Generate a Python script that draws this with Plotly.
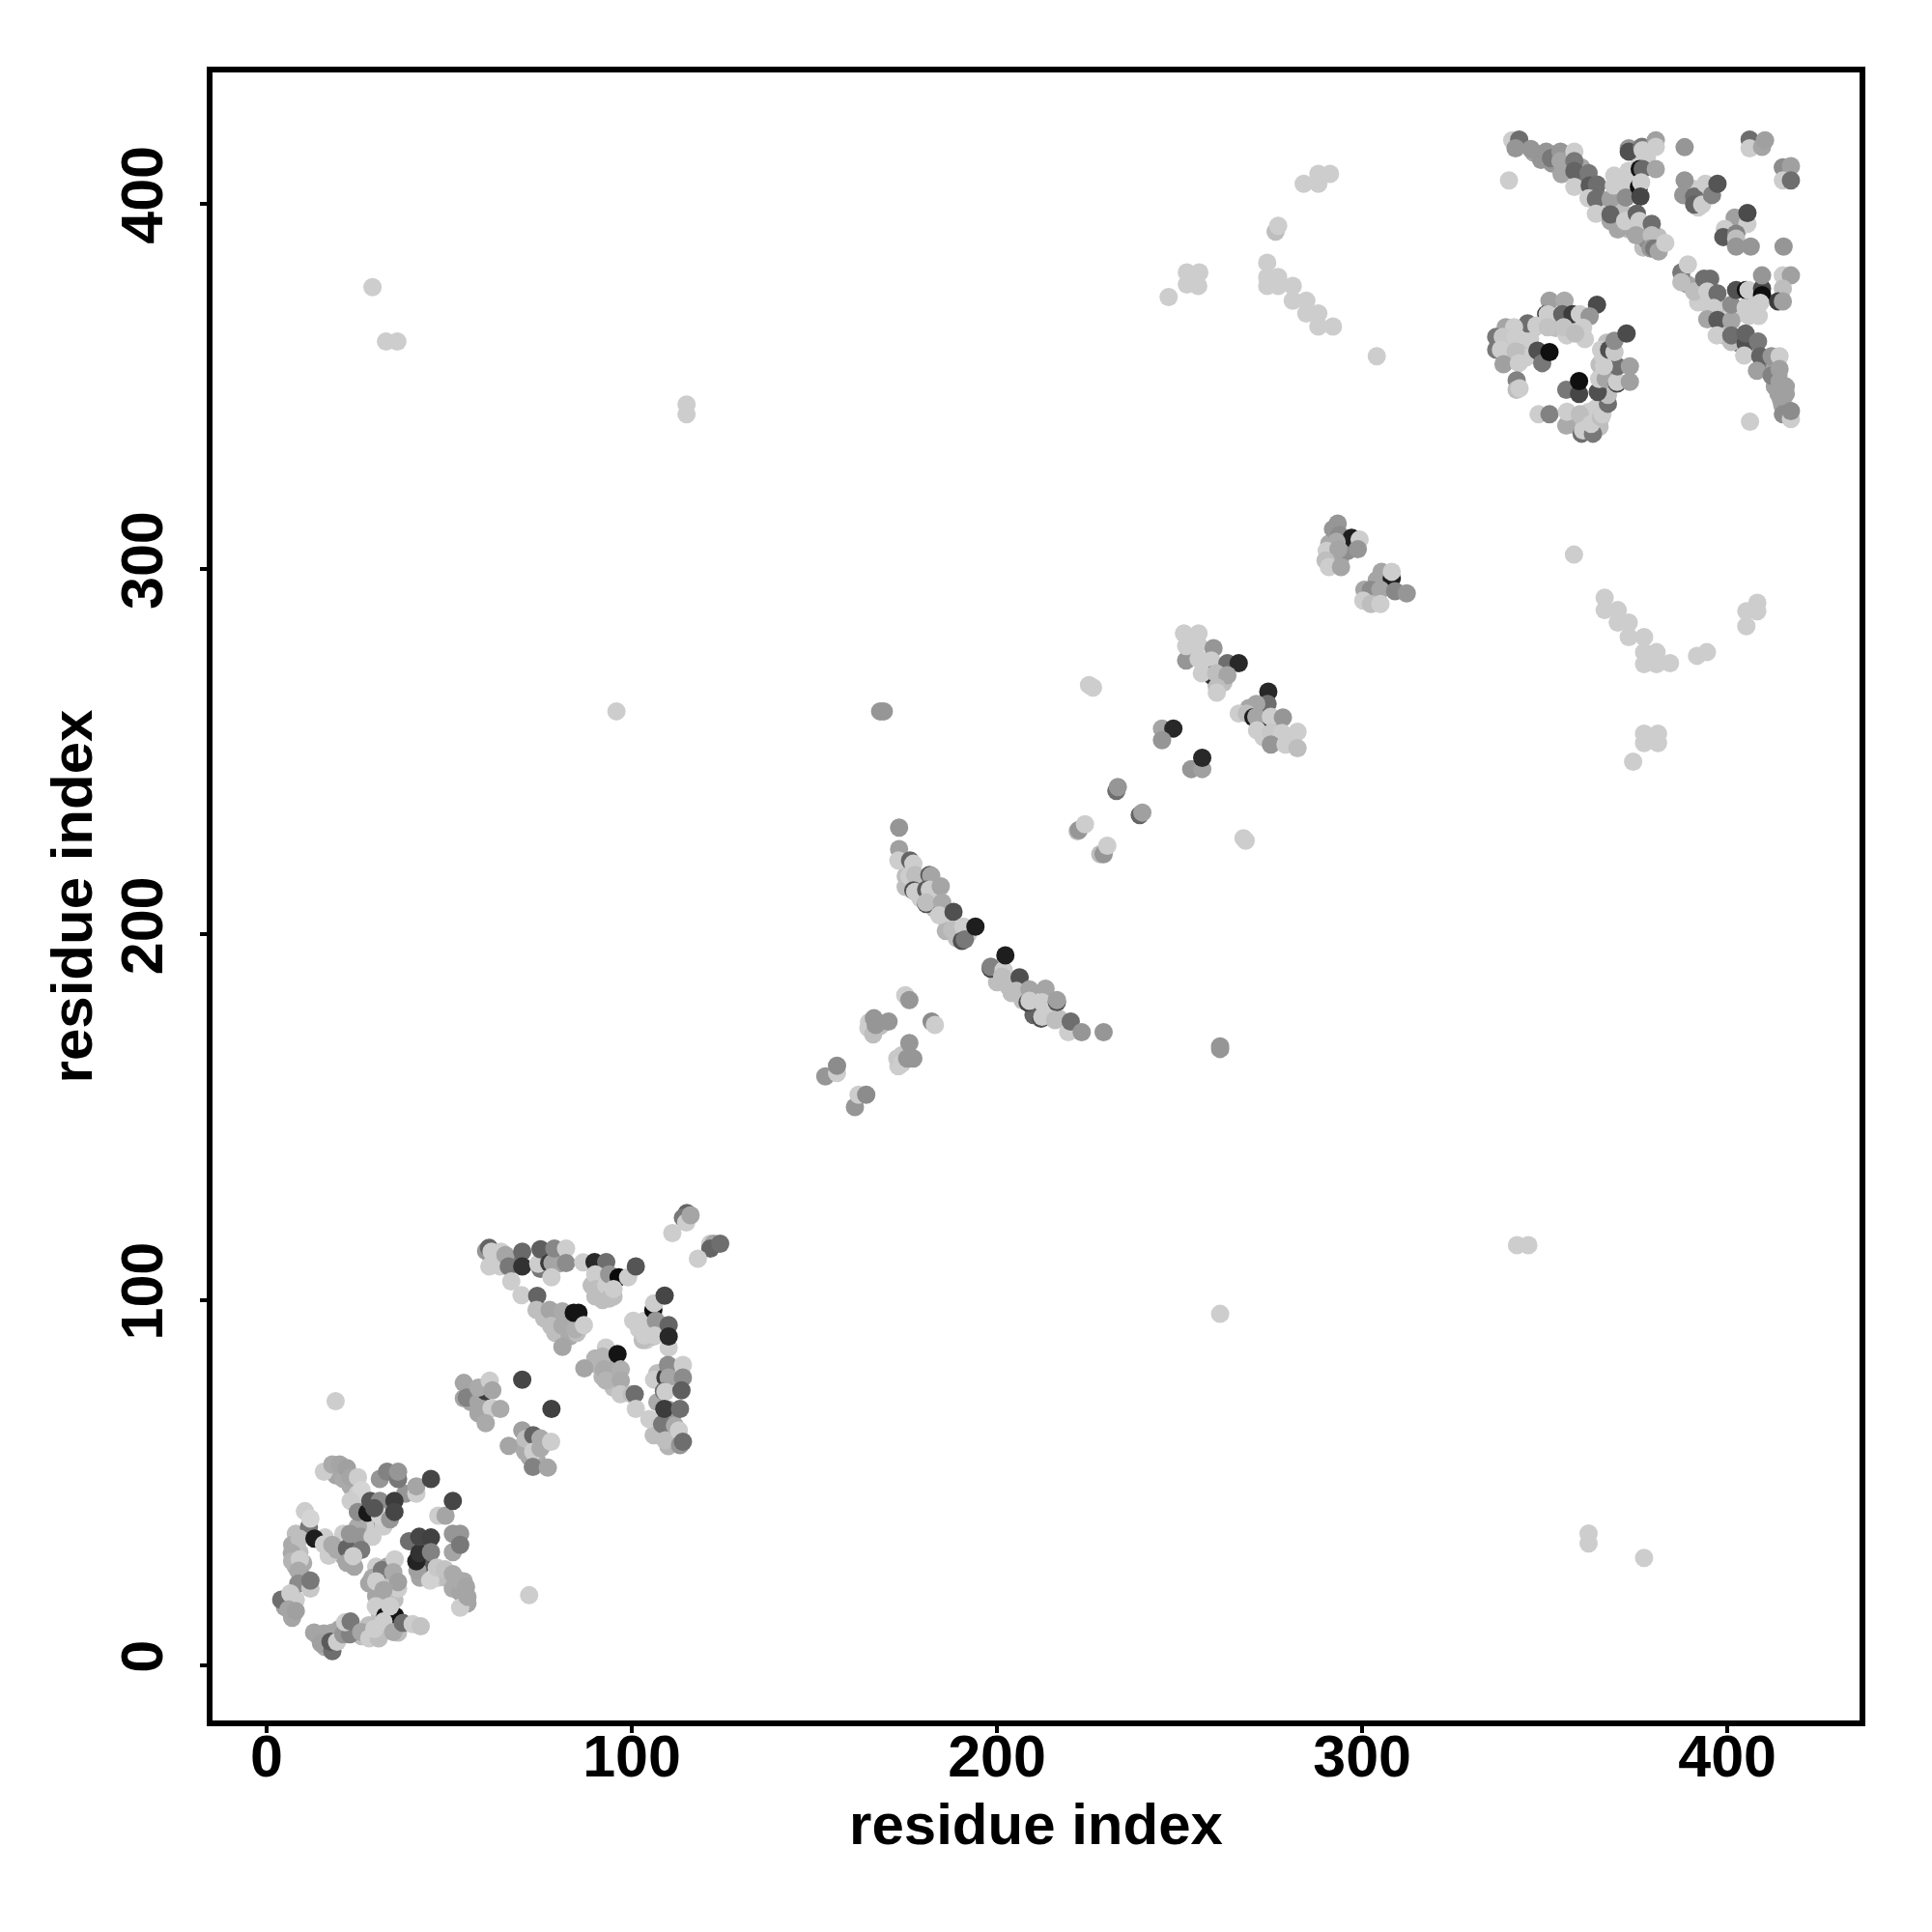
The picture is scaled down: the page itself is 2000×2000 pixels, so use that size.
import plotly.graph_objects as go

# contacts hidden underneath the visible ones: (residue i, residue j, grey level)
under_a = [(19,52,165),(21,51,170),(23,49,170),(25,47,205),(27,44,205),(8,36,190),(7,33,170),(9,31,190),(10,28,170),(8,27,170),(10,24,150),(6,17,165),(8,18,205),(5,16,160),(7,13,165),
(20,33,170),(21,30,170),(24,33,150),(24,27,165),(16,35,205),(17,30,205),(30,27,205),(29,24,170),(33,27,165),(33,23,190),(30,19,165),(33,19,190),(35,18,190),(31,14,190),(28,11,190),(31,10,190),(33,11,205),(36,9,190),(28,8,190),(26,8,190),(16,5,170),(13,9,165),(18,9,170),(20,10,165),
(43,33,100),(43,28,90),(42,24,165),(47,24,205),(49,24,190),(51,21,170),(53,20,165),(55,17,165),(54,23,170),(33,42,170),(30,38,165),(28,39,140),(32,38,205),(27,38,205),(38,47,150),(25,38,170)]
under_b = [(62,111,205),(63,111,190),(64,112,180),(68,111,120),(76,111,205),(80,110,165),(89,104,190),(90,101,190),(92,100,190),(95,101,190),(91,105,205),(76,95,190),(79,95,170),(79,91,190),(83,94,170),(83,90,170),(85,91,190),(90,84,180),(91,82,180),(92,79,180),(94,82,170),(95,78,170),(95,76,190),(94,79,170),
(102,92,205),(104,89,205),(106,90,190),(104,92,205),(108,92,190),(103,89,190),(107,80,190),(107,72,170),(108,64,180),(106,63,190),(110,60,180),(110,64,170),(112,62,180),(111,67,150),(110,70,150),(56,72,165),(57,74,165),(58,69,165),(70,60,190),(72,60,170),(72,57,170),(74,56,170)]
under_c = [(175,216,190),(175,213,190),(178,214,205),(179,210,205),(182,210,190),(183,207,190),(186,204,205),(186,201,180),(189,199,190),(192,200,205),(200,187,190),(203,186,190),(204,184,190),(207,182,190),(210,180,190),(214,179,205),(217,177,190),(210,178,100),(168,175,190),(165,176,205),(174,167,200),(173,164,205)]
under_d = [(292,302,165),(291,307,170),(294,303,165),(296,305,140),(292,311,150),(304,297,165),(303,292,190),(306,296,165),(254,277,205),(253,280,205),(257,273,205),(260,269,190),(262,269,190),(262,272,165),(269,262,165),(272,257,205),(273,254,205),(276,253,205),(277,257,190),(281,253,205),(272,262,120)]
under_e = [(340,364,205),(340,360,205),(344,362,190),(345,358,205),(340,358,190),(347,366,190),(346,363,205),(352,368,205),(353,366,190),(357,368,190),(359,367,205),(356,364,205),(361,363,205),(363,339,190),(361,341,205),(359,339,190),(362,343,205),(366,345,190),(364,344,205),(365,339,190),(367,350,165),(365,356,190),(366,358,205),(367,362,190),
(347,414,165),(349,412,150),(352,411,150),(356,411,150),(360,406,120),(360,410,165),(364,403,130),(366,399,205),(371,398,190),(373,393,190),(370,393,165),(378,392,165),(377,388,190),(381,391,190),(378,390,140),(374,393,165),(370,405,205),(371,402,190),(374,407,205),(374,404,190),(376,412,205),(378,413,205),
(391,404,205),(392,399,205),(403,393,205),(402,392,190),(389,378,165),(392,376,190),(392,373,205),(395,372,205),(399,371,205),(397,372,190),(400,366,190),(403,370,205),(406,373,205),(399,364,190),(403,362,120),(405,359,205),(407,360,160),(410,356,160),(411,355,120),(413,350,160),(414,348,160),(416,348,160),(415,345,165),(414,353,165),(416,350,160),(413,355,160),(416,344,160)]

cluster_a = [(15.7,53,205),(18,55,170),(20,55,165),(22,54,160),(23,51.5,165),(25,51.5,205),(26,48,212),(23,45,205),(25,42,140),
(31,51,150),(33,53,130),(36,51,120),(36,53,150),(41,47,205),(41,49,165),(45,51,70),(47,41,205),(49,41,165),(51,45,70),
(27.6,41.8,25),(28.4,45,85),(31,45,140),(31,41,210),(29.5,43,85),(33.8,40,150),(35,45,60),(35,42,70),
(39,34,110),(41.3,26,160),(41,28.5,35),(41.8,30.7,50),(41.8,35.2,70),(45,35,65),(45,31,130),
(51,31,165),(51,36,150),(53,36,150),(53,33,120),
(44.8,23.2,210),(46.6,26.8,200),(48.8,26.3,195),(51,25,170),(52.8,23.2,170),(54.6,21.5,165),(53,15.8,205),(55,18.8,165),
(10.5,42.2,205),(11.6,37.8,120),(12,40.2,212),(9,34.7,190),(13.1,34.7,30),(15.7,33.1,205),(6.9,30.7,170),(7,28.5,180),(9.1,29,205),(8.7,25.9,170),
(8.7,22.4,140),(12,21,200),(12,23.2,120),(4,18,110),(6.5,19.7,205),(6,15.3,165),(8,14.9,160),
(21,36,205),(18,33,170),(19.3,31.6,170),(22,32,100),(22.8,36,150),(25.7,35.2,150),(29,35.2,205),(22,28.1,165),(25.9,31.6,120),(23.7,29.9,205),
(31.6,26.1,120),(35.1,29,205),(34.7,25.5,170),(28.1,22.4,165),(30,23,205),(36,21,205),(36,22.8,160),(32,20.6,165),(29.9,16.2,205),(32.5,13.5,20),(35.2,13.5,20),(33.8,16.2,205),
(14,8.2,165),(15.7,8.7,165),(14.9,6,160),(18,3.9,110),(17.5,6.5,90),(19.3,6.5,205),(21,8.5,150),(22.8,8.5,130),(21.5,11.8,205),(23,12,120),(25.9,9.1,165),
(28.1,7.4,205),(30.7,7.4,190),(29.5,10,205),(32,12,205),(34.7,9.1,170),(37.3,11.6,110),(40,11.3,205),(42.2,10.7,195),
(18.9,72.3,205),(71.9,19.2,205)]

cluster_b = [(60.1,113.4,150),(60.9,114.3,100),(61,109.2,205),(61.6,113.2,205),(64,109.2,205),(64.2,113.2,205),(65.4,112.3,165),(66.3,109.2,120),(70,113.2,105),(70,109.2,50),(67,105.1,205),
(75,108.5,120),(74.4,109.9,205),(75,113.9,95),(77.4,110.1,60),(78.3,110.1,165),(78.8,114.1,135),(78,106.2,205),(82,114.1,205),(82,110.1,140),
(86.7,110.3,205),(89.8,110.4,40),(93,110.4,110),(90,107,205),(90.2,103,190),(93,104,205),(93.8,107,150),(93.8,100.4,190),(96.4,106.2,10),(95,103,205),(99,106.2,205),(101.1,109.2,85),
(69.8,101.3,205),(74.1,101.1,100),(73.9,97.3,190),(77.5,97.3,165),(77.9,92.9,190),(81,96.9,170),(81,93,170),(84.5,92,175),(84.1,96.5,20),(85.4,96.5,20),(86.9,93.1,205),(81,87.2,165),
(87,81.3,165),(92.9,87,205),(92,84.5,180),(92.4,81,170),(92.9,78,180),(96.1,85.2,20),(97,81,175),(97,78,170),(96.9,74.2,200),(100,74.2,190),(100.8,74.2,110),(101.1,70.2,205),
(100.4,94.3,205),(103.5,94.3,205),(105.9,97.3,15),(106.1,99.1,205),(109,101.2,70),(103.5,90.3,205),(106.6,94.3,150),(106.3,90.3,205),(110.1,87,205),(110.1,93.1,100),(110.1,90,40),
(106.1,78.2,205),(109.2,78.8,60),(109.9,82.2,140),(110.1,78.8,165),(114,82.2,205),(114,78.8,140),(108.8,75,110),(109.2,74.9,205),(113.6,75.3,95),(104.8,67.4,205),(108.3,66,120),(109.2,61.6,190),(111.8,65.6,170),(112.9,64.3,205),(113.2,60.3,150),(114,61.2,110),(108.9,70.2,60),(113.2,70.2,110),
(115.1,123.8,100),(114,122.5,120),(114.9,121.2,205),(116.1,123.2,165),(111.1,118.3,205),
(121.5,115.4,205),(122.4,115.4,165),(121.5,114.1,100),(124.2,115.4,110),(118.1,111.3,205),
(54,77.3,165),(54,73.1,165),(54.8,73.3,130),(58,72,165),(60,75,60),(58,76,170),(61.1,77.9,205),(61.8,75.3,165),(61.6,70.4,205),(64,70.2,170),(60,66.3,170),(70,78.2,70),(78,70.2,65),
(70,64.3,160),(66.3,60.1,165),(70.8,58.5,170),(71,62,190),(73,63,100),(73,58.5,205),(75,62.1,170),(75,59.4,170),(77.9,61.2,205),(72.9,54.3,130),(77,54.1,165)]

cluster_c = [(173.2,229.3,150),(173.2,223.4,160),(173,220.3,205),(176.2,220.3,100),(177.1,219.4,205),(176,216,205),(177.6,216.3,190),(177.1,212.1,80),(177.6,211.7,205),
(181.5,216.3,90),(182,216.1,165),(180.6,212.3,90),(181.6,212.3,205),(184.6,213.2,165),(180.6,208.4,80),(180.6,208.8,190),(185,208.8,170),(184.2,205.3,205),(188.1,206.2,80),(187.7,201.3,190),(190.8,202.2,205),(190.4,198.3,80),(191.2,198.7,120),(194.1,202.2,30),
(198.3,190.7,70),(198.3,191.2,130),(201.8,190.3,205),(202.3,194.3,30),(201.4,188.5,190),(206.2,188.3,80),(205.3,184.6,190),(208.9,185,165),(208.4,181.4,70),(208.9,181.9,205),(213.3,185.2,165),(212.4,181.5,205),(216.4,181.5,80),(216.4,182.1,160),(212.1,177,80),(212.4,177.5,205),(215.9,176.6,190),(219.5,173.3,205),(220.2,176.2,110),(223.2,173.3,150),(229.2,173.3,150),
(174.9,183.4,205),(176,182.1,150),(164.8,174.4,205),(166.1,172.7,190),(166.3,177.1,150),(166.8,175.3,150),(170.3,176.2,150),(182.1,176.2,140),(183,175.3,205),
(176,170.3,150),(172.7,166.1,200),(174,164.7,205),(175.4,166.1,150),(177.1,166.1,150),(153,161.2,150),(156.2,162.1,205),(156.2,164.1,140),(161.1,152.8,150),(162.1,156.2,205),(164.2,156.2,140),
(222.1,228.3,190),(222.4,228.6,150),(224.1,230.2,205),(228.3,222,190),(229.2,222,150),(230.2,224.3,205)]

cluster_d = [(293.3,312.5,150),(293.8,309.4,140),(297.1,308.6,30),(293,307.5,170),(299.3,308.1,205),(290.3,305,205),(293.5,305.5,165),(298.8,305.5,150),(290,302.4,190),(290.9,300.6,205),(294.2,300.6,165),
(305.3,299.3,165),(308.1,297.5,30),(308.1,299.3,205),(300.6,294.4,165),(302.4,294.4,140),(305,294.4,165),(309,294,135),(312.2,293.4,150),(300.3,291.4,205),(302.4,290.5,190),(305,290.5,205),
(251.8,275,150),(251.2,282.4,205),(255.2,282.4,205),(251.8,279,205),(255,279.5,205),(259.3,278.4,150),(255.2,275.5,205),(258.7,275,205),(263.1,274.3,110),(266.2,274.3,40),(258.7,271,50),(256.1,271.5,205),(260,271.5,190),(263.1,271,165),(260.2,267.7,190),(260.2,266.2,205),
(274.3,266.5,40),(274.1,263.1,110),(271,263.1,165),(266.2,260.5,205),(268.4,260.5,190),(270.2,259.5,30),(272.8,259,60),(271,259.6,165),(275,259.6,205),(278.3,259.4,150),(271.2,255.9,205),(275,255.2,200),(278.1,255.2,205),(282.3,255.5,205),(275,252,150),(279,252,205),(282.3,251,190),
(245.2,256.4,165),(248.3,256.4,40),(245.2,253.2,150),(253.2,245.3,150),(256.2,245.3,160),(256.2,248.4,40),
(232.7,239.3,110),(233.1,240.4,150),(239.1,232.7,100),(239.8,233.4,160),
(225.2,268.3,205),(226.3,267.6,205),(267.5,226.4,205),(268.1,225.7,205)]

cluster_e = [(351.3,373.5,160),(355.4,373.5,170),(364.3,372.4,75),(350.4,369.8,60),(350.8,369.8,205),(354.8,369.8,100),(357.6,369.8,60),(359.6,369.8,205),(362.3,369.2,150),(345.3,367.3,110),(347.7,366.7,205),(350.8,366.2,195),(355.2,366.2,195),(360.5,366.1,205),(358.3,364.5,190),
(339.3,366.2,165),(341.6,366.2,205),(336.7,363.6,120),(336.7,360.1,120),(338.5,363.6,200),(338,360.1,205),(342,363.6,205),(342,359.6,190),(338.7,356.1,160),(342.9,356.4,205),(348,359.8,80),(349.3,356.4,120),(351.3,359.4,15),
(342.3,351.7,130),(342.3,349.1,190),(343.1,349.5,205),(348.3,342.4,205),(351.3,342.4,130),(355.9,349.1,120),(359.4,348,70),(359.4,351.5,15),(355.9,339.3,170),(356.1,343.1,205),(359.6,342.4,190),(360.1,337.1,110),(360.5,338,205),(363.2,337.1,120),(362.7,339.8,205),(365.4,341.6,190),(365.8,342.4,205),(367.3,345.3,110),(367.3,347.7,190),
(364.5,348.5,80),(364.9,352.1,205),(366.7,352.1,165),(369.8,350.8,70),(369.8,351.3,205),(373.3,351.3,160),(369.9,355.5,110),(373.3,355.5,160),(365.4,360.1,205),(366.2,355.6,205),(367.6,360.1,80),(369.1,359.4,200),(369.1,362.5,140),(372.4,364.5,75),
(341.1,417.4,205),(343,417.6,110),(342,415.2,150),(346.2,415,150),(350.4,414.3,150),(351.7,412.5,120),(354.3,414.3,150),(354.3,411.7,165),(354.6,408.1,165),(358.1,414.3,205),(358.1,411.7,120),(358.1,409,100),(362,408.4,120),(358.1,404.6,205),(362.3,405,90),(364.3,405.3,110),(362,401.5,205),(364,401.3,110),(364,397.3,205),(368,401.3,160),(368,395.3,165),(368,397.1,100),(372,395.3,205),
(369,407.7,205),(368.9,405,205),(372.9,409,205),(372.4,405,205),(372.2,401.7,140),(373,415.2,150),(373,414.3,80),(376.6,415.6,120),(376.8,414.7,205),(380.4,417.4,160),(380.4,415.6,205),(376,409.5,20),(376.8,409.5,105),(380.4,409.5,165),(375.8,404.6,15),(376.4,405.9,205),(376.2,402,70),
(375.2,397.3,100),(375.9,395.3,205),(375,391.4,165),(379.3,394.5,110),(379.3,391.4,190),(379,387.8,150),(380,387.8,120),(381.2,387,165),(383,389.3,205),
(388.3,415.5,150),(388.3,406.4,150),(387.9,402.4,150),(390.9,402,110),(390.9,399.8,100),(394,405.5,205),(393.1,399.8,205),(395.8,402.4,130),(397.3,405.5,85),
(406.1,417.6,110),(406.1,415.2,205),(409.5,415.6,165),(410.3,417.4,160),(415.2,410,140),(417.4,410.3,160),(415.2,406.4,205),(417.4,406.4,110),
(402,396.2,160),(405.5,394.5,205),(405.5,397.5,75),(399.3,393.1,205),(398.9,390.9,90),(402.4,391.8,130),(402.4,390.5,190),(402.4,388.3,150),(406.4,388.3,150),(415.4,388.3,150),
(387.4,381.2,120),(389.2,383.4,205),(387.4,378.6,190),(390.9,376,190),(393.6,379.5,110),(395.3,379.5,110),(394.5,376,205),(397.3,375.5,110),(396.2,371.5,205),(394.5,368.4,165),(397.3,368.2,90),(401.1,368,165),(401.1,372.4,140),(402.4,376.4,80),(405.1,376.4,15),(405.8,376.4,205),(409.5,376.8,75),(409.5,375,15),(409.5,380.4,150),(409,372.9,205),(405,371.5,205),(405.9,369.3,205),(408.6,369.3,205),(415.2,380.4,205),(417.4,380.4,160),(415.2,376.8,190),(413.9,373.3,60),(415.2,373.3,160),
(397.1,364,205),(401.1,362.2,190),(401.1,364,110),(405,361.8,80),(405,364.5,100),(408.4,362.3,120),(404.6,358.5,205),(409,358.3,100),(408.1,354.3,160),(412.1,358.3,150),(414.3,358.3,205),(412.1,353,130),(414.3,354.8,160),(414.3,351.3,160),(414.7,346.4,160),(415.2,342.4,140),(417.4,341.1,205),(417.4,343.3,140),(406.2,340.4,205),(340.2,406.4,205)]

scattered = [(29,377.2,205),(32.7,362.3,205),(35.8,362.3,205),(115,345.1,205),(115,342.4,205),(95.8,261.1,205),(168,261.1,150),(169,261.1,150),(261.1,168.7,150),(261.1,169.4,150),(261.1,96.2,205),
(247,374.5,205),(252,381.2,205),(255.4,381.2,205),(252,377.9,205),(255.1,377.5,205),
(274,383.9,205),(274,379.9,205),(274,377.5,205),(277,380,205),(277,377.5,205),(281,377.5,205),(281,373.5,205),(284.7,373.5,205),(284.7,370,205),(288,370,205),(288,366.4,205),(292,366.4,205),(276.3,392.4,190),(277,394,205),(284,405.5,205),(288,405.5,205),(288,408.2,205),(291.2,408.2,205),(304,358.3,205),
(358,304,205),(366.4,292.2,205),(366.4,288.8,205),(370,288.8,205),(370,285.4,205),(373,285.4,205),(373,281.4,205),(377.2,281.4,205),(377.2,277.3,205),(380.6,277.3,205),(377.2,274,205),(380.6,274,205),(384.3,274.3,205),(391.7,276.3,205),(394.4,277.3,205),(405.2,288.5,205),(408.2,290.8,205),(405.2,284.4,205),(408.2,288.5,205),
(377.2,255,205),(381,255,205),(377.2,252.4,205),(381,252.4,205),(374.2,247.3,205),(342.4,115,205),(345.5,115,205),(362,36.1,205),(362,33.4,205),(377.2,29.4,205)]

tick_values = [0, 100, 200, 300, 400]
tick_labels = ["0", "100", "200", "300", "400"]
axis_label = "residue index"

contacts = (under_a + under_b + under_c + under_d + under_e
            + cluster_a + cluster_b + cluster_c + cluster_d + cluster_e + scattered)
xs = [c[0] for c in contacts]
ys = [c[1] for c in contacts]
colors = [f"rgb({c[2]},{c[2]},{c[2]})" for c in contacts]

fig = go.Figure(go.Scatter(x=xs, y=ys, mode="markers",
                           marker=dict(size=19, color=colors, line=dict(width=0))))

tick_font = dict(family="Liberation Sans", size=61, color="black", weight="bold")
title_font = dict(family="Liberation Sans", size=60, color="black", weight="bold")
common = dict(autorange=False, tickvals=tick_values, ticktext=tick_labels,
              showgrid=False, zeroline=False, showline=True, mirror=True, linecolor="black",
              linewidth=6, ticks="outside", ticklen=7, tickwidth=3.5, tickcolor="black",
              tickfont=tick_font)
fig.update_xaxes(**common, range=[-14.81, 436.2], ticklabelstandoff=-28,
                 title=dict(text=axis_label, font=title_font, standoff=18))
fig.update_yaxes(**common, range=[-15.07, 435.95], tickangle=-90, ticklabelstandoff=15,
                 title=dict(text=axis_label, font=title_font, standoff=0))
fig.update_layout(width=2000, height=2000, autosize=False, showlegend=False,
                  paper_bgcolor="white", plot_bgcolor="white",
                  margin=dict(l=211.7, r=83, t=67, b=227, autoexpand=False))
fig.write_html("out.html")
